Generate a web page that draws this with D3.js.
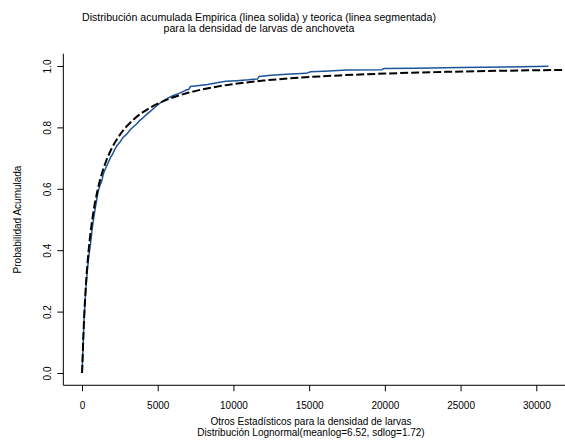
<!DOCTYPE html>
<html>
<head>
<meta charset="utf-8">
<script src="https://cdn.jsdelivr.net/npm/d3@7/dist/d3.min.js"></script>
<style>
  html, body { margin: 0; padding: 0; background: #ffffff; }
  svg { display: block; }
  text { font-family: "Liberation Sans", Arial, Helvetica, sans-serif; fill: #000; }
</style>
</head>
<body>
<svg id="chart" width="565" height="448"></svg>
<script>
// Empirical cumulative distribution of larval density (solid blue line)
const empX = [0, 15, 40, 70, 100, 140, 190, 250, 320, 400, 480, 560, 650, 740, 850, 960,
  1060, 1180, 1300, 1420, 1520, 1640, 1760, 1900, 2000, 2150, 2300, 2400, 2550, 2700,
  2850, 3000, 3200, 3400, 3600, 3800, 4050, 4300, 4550, 4800, 5100, 5400, 5700, 6000,
  6400, 6800, 7050, 7150, 7600, 8300, 9000, 9500, 10200, 11000, 11600, 11700, 12500,
  13500, 14800, 15100, 16000, 17500, 19800, 19950, 22000, 25000, 28000, 30800];
const empY = [0, 0.012, 0.045, 0.090, 0.128, 0.175, 0.222, 0.270, 0.315, 0.358, 0.392,
  0.420, 0.460, 0.494, 0.530, 0.561, 0.590, 0.611, 0.624, 0.650, 0.662, 0.675, 0.688,
  0.704, 0.711, 0.727, 0.740, 0.746, 0.755, 0.767, 0.773, 0.781, 0.793, 0.802, 0.811,
  0.822, 0.832, 0.844, 0.854, 0.865, 0.877, 0.888, 0.896, 0.903, 0.911, 0.920, 0.924,
  0.933, 0.936, 0.940, 0.946, 0.950, 0.952, 0.955, 0.958, 0.966, 0.970, 0.973, 0.976,
  0.981, 0.983, 0.987, 0.988, 0.992, 0.993, 0.995, 0.997, 0.999];

// Lognormal(meanlog = 6.52, sdlog = 1.72) cumulative probabilities (dashed line)
const teoX = [0, 10, 30, 60, 100, 150, 200, 300, 400, 500, 700, 1000, 1300, 1600, 2000,
  2500, 3000, 3500, 4000, 5000, 6000, 7000, 8000, 10000, 12000, 14000, 17000, 20000,
  24000, 28000, 32000];
const teoY = [0, 0.0071, 0.0349, 0.0792, 0.1328, 0.1901, 0.2388, 0.3176, 0.3793, 0.4295,
  0.5072, 0.5892, 0.6473, 0.6910, 0.7351, 0.7758, 0.8063, 0.8299, 0.8488, 0.8772, 0.8975,
  0.9126, 0.9243, 0.9411, 0.9526, 0.9608, 0.9694, 0.9754, 0.9809, 0.9847, 0.9875];

const xTicks = [0, 5000, 10000, 15000, 20000, 25000, 30000];
const yTicks = [0, 0.2, 0.4, 0.6, 0.8, 1.0];

const titleLines = [
  "Distribución acumulada Empirica (linea solida) y teorica (linea segmentada)",
  "para la densidad de larvas de anchoveta"
];
const xLabLines = [
  "Otros Estadísticos para la densidad de larvas",
  "Distribución Lognormal(meanlog=6.52, sdlog=1.72)"
];
const yLab = "Probabilidad Acumulada";

const svg = d3.select("#chart");
svg.append("rect").attr("width", 565).attr("height", 448).attr("fill", "#fff");

const x = d3.scaleLinear().domain([0, 30000]).range([82, 536.3]);
const y = d3.scaleLinear().domain([0, 1]).range([373, 66]);

// plotting region limits (data range padded by 4%)
const plotLeft = x(-1232), plotRight = x(32032);
const plotTop = y(1.04), plotBottom = y(-0.04);

svg.append("defs").append("clipPath").attr("id", "plotclip")
  .append("rect")
  .attr("x", plotLeft).attr("y", plotTop)
  .attr("width", plotRight - plotLeft).attr("height", plotBottom - plotTop);

// L-shaped frame
svg.append("path")
  .attr("d", `M${plotLeft},${plotTop}V${plotBottom}H${plotRight}`)
  .attr("fill", "none").attr("stroke", "#000").attr("stroke-width", 1);

// x axis
const xAxis = d3.axisBottom(x).tickValues(xTicks).tickSize(6)
  .tickFormat(d3.format("d"));
const gx = svg.append("g").attr("transform", `translate(0,${plotBottom})`).call(xAxis);
gx.select(".domain").remove();
gx.selectAll("line").attr("stroke", "#000");
gx.selectAll("text").attr("font-size", 10)
  .attr("font-family", "'Liberation Sans', Arial, Helvetica, sans-serif")
  .attr("dy", null).attr("y", 24);

// y axis
const yAxis = d3.axisLeft(y).tickValues(yTicks).tickSize(6)
  .tickFormat(d3.format(".1f"));
const gy = svg.append("g").attr("transform", `translate(${plotLeft},0)`).call(yAxis);
gy.select(".domain").remove();
gy.selectAll("line").attr("stroke", "#000");
gy.selectAll("text")
  .attr("font-size", 10)
  .attr("font-family", "'Liberation Sans', Arial, Helvetica, sans-serif")
  .attr("x", null).attr("dy", null)
  .attr("text-anchor", "middle")
  .attr("transform", "translate(-12,0) rotate(-90)");

const g = svg.append("g").attr("clip-path", "url(#plotclip)");

// empirical curve
const empData = empX.map((v, i) => [v, empY[i]]);
g.append("path")
  .datum(empData)
  .attr("d", d3.line().x(d => x(d[0])).y(d => y(d[1])))
  .attr("fill", "none").attr("stroke", "#1d5399").attr("stroke-width", 1.5)
  .attr("stroke-linejoin", "round");

// theoretical lognormal curve
const teoData = teoX.map((v, i) => [v, teoY[i]]);
g.append("path")
  .datum(teoData)
  .attr("d", d3.line().curve(d3.curveMonotoneX).x(d => x(d[0])).y(d => y(d[1])))
  .attr("fill", "none").attr("stroke", "#000").attr("stroke-width", 2)
  .attr("stroke-dasharray", "8,3");

// titles
svg.selectAll("text.title").data(titleLines).enter().append("text")
  .attr("class", "title")
  .attr("x", 259).attr("y", (d, i) => 21 + i * 11)
  .attr("text-anchor", "middle").attr("font-size", 10.6)
  .text(d => d);

svg.selectAll("text.xlab").data(xLabLines).enter().append("text")
  .attr("class", "xlab")
  .attr("x", 311).attr("y", (d, i) => 425 + i * 11)
  .attr("text-anchor", "middle").attr("font-size", 10)
  .text(d => d);

svg.append("text")
  .attr("transform", `translate(21,${(plotTop + plotBottom) / 2}) rotate(-90)`)
  .attr("text-anchor", "middle").attr("font-size", 10)
  .text(yLab);
</script>
</body>
</html>
